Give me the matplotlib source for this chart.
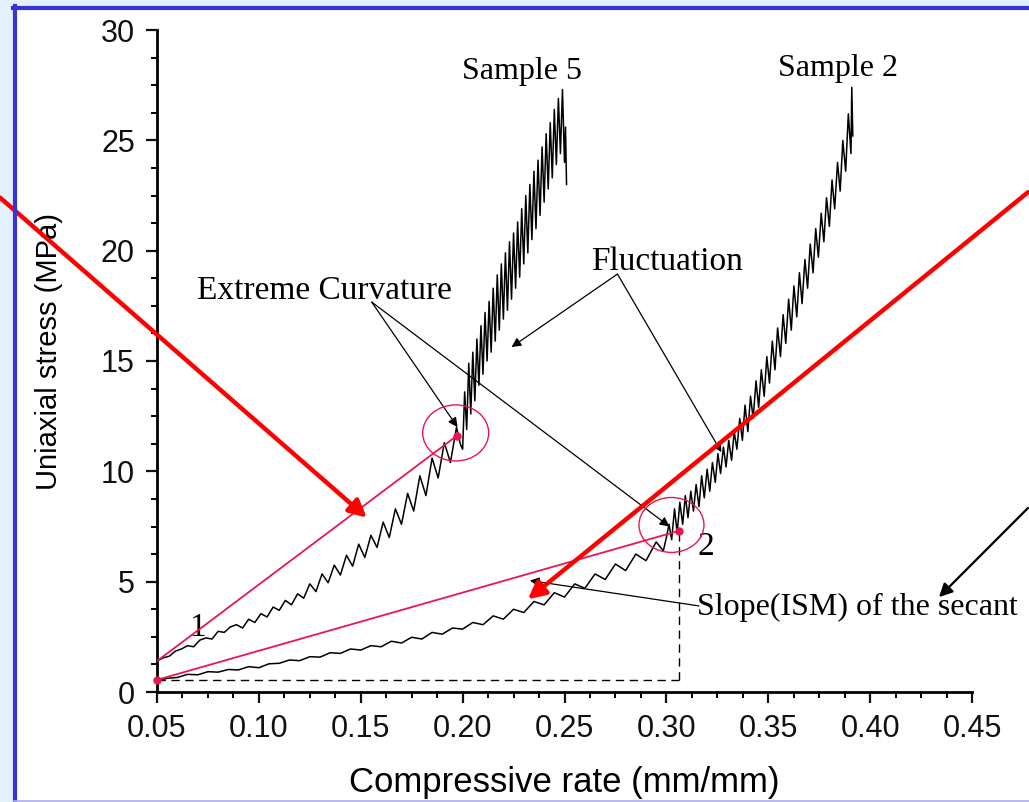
import matplotlib
matplotlib.use("Agg")
import matplotlib.pyplot as plt
from matplotlib.patches import Rectangle, Ellipse
from matplotlib.lines import Line2D
from matplotlib.ticker import MultipleLocator

# sample 5 curve (compressive rate, stress MPa)
s5_x = [0.050, 0.053, 0.056, 0.059, 0.062, 0.065, 0.068, 0.071, 0.074, 0.077,
        0.080, 0.083, 0.086, 0.089, 0.092, 0.095, 0.098, 0.101, 0.104, 0.107,
        0.110, 0.113, 0.116, 0.119, 0.122, 0.125, 0.128, 0.131, 0.134, 0.137,
        0.140, 0.143, 0.146, 0.149, 0.152, 0.155, 0.158, 0.161, 0.164, 0.167,
        0.170, 0.173, 0.176, 0.179, 0.182, 0.185, 0.188, 0.191, 0.194, 0.197,
        0.199,
        0.2000, 0.2010, 0.2020, 0.2030, 0.2040, 0.2050, 0.2060, 0.2070, 0.2080, 0.2090,
        0.2100, 0.2110, 0.2120, 0.2130, 0.2140, 0.2150, 0.2160, 0.2170, 0.2180, 0.2190,
        0.2200, 0.2210, 0.2220, 0.2230, 0.2240, 0.2250, 0.2260, 0.2270, 0.2280, 0.2290,
        0.2300, 0.2310, 0.2320, 0.2330, 0.2340, 0.2350, 0.2360, 0.2370, 0.2380, 0.2390,
        0.2400, 0.2410, 0.2420, 0.2430, 0.2440, 0.2450, 0.2460, 0.2470, 0.2480, 0.2490,
        0.2500, 0.2505, 0.2510]
s5_y = [1.40, 1.55, 1.62, 1.85, 1.95, 2.10, 2.05, 2.35, 2.45, 2.40,
        2.75, 2.70, 2.95, 3.05, 2.90, 3.30, 3.15, 3.55, 3.40, 3.85,
        3.70, 4.15, 3.95, 4.45, 4.25, 4.90, 4.55, 5.35, 4.95, 5.75,
        5.30, 6.20, 5.70, 6.70, 6.10, 7.10, 6.55, 7.70, 7.00, 8.30,
        7.60, 9.00, 8.20, 9.80, 8.90, 10.60, 9.70, 11.30, 10.40, 12.00,
        11.20,
        11.0, 13.6, 11.9, 14.9, 12.6, 15.4, 13.2, 16.0, 13.9, 16.6,
        14.4, 17.2, 15.0, 17.7, 15.4, 18.3, 15.9, 18.9, 16.4, 19.4,
        16.9, 19.9, 17.3, 20.4, 17.8, 20.8, 18.3, 21.3, 18.8, 21.9,
        19.4, 22.5, 19.9, 23.0, 20.5, 23.6, 21.0, 24.1, 21.6, 24.7,
        22.2, 25.3, 22.8, 25.8, 23.3, 26.4, 23.9, 26.9, 24.4, 27.3,
        24.0, 25.6, 23.0]

# sample 2 curve
s2_x = [0.050, 0.055, 0.060, 0.065, 0.070, 0.075, 0.080, 0.085, 0.090, 0.095,
        0.100, 0.105, 0.110, 0.115, 0.120, 0.125, 0.130, 0.135, 0.140, 0.145,
        0.150, 0.155, 0.160, 0.165, 0.170, 0.175, 0.180, 0.185, 0.190, 0.195,
        0.200, 0.205, 0.210, 0.215, 0.220, 0.225, 0.230, 0.235, 0.240, 0.245,
        0.250, 0.255, 0.260, 0.265, 0.270, 0.275, 0.280, 0.285, 0.290, 0.295,
        0.2985,
        0.3000, 0.3013, 0.3026, 0.3040, 0.3053, 0.3066, 0.3080, 0.3093, 0.3106, 0.3120,
        0.3133, 0.3146, 0.3160, 0.3173, 0.3186, 0.3200, 0.3213, 0.3226, 0.3240, 0.3253,
        0.3266, 0.3280, 0.3293, 0.3306, 0.3320, 0.3333, 0.3346, 0.3360, 0.3373, 0.3386,
        0.3400, 0.3413, 0.3426, 0.3440, 0.3453, 0.3466, 0.3480, 0.3493, 0.3506, 0.3520,
        0.3533, 0.3546, 0.3560, 0.3573, 0.3586, 0.3600, 0.3613, 0.3626, 0.3640, 0.3653,
        0.3666, 0.3680, 0.3693, 0.3706, 0.3720, 0.3733, 0.3746, 0.3760, 0.3773, 0.3786,
        0.3800, 0.3813, 0.3826, 0.3840, 0.3853, 0.3866, 0.3880, 0.3893, 0.3906, 0.3910,
        0.3915]
s2_y = [0.50, 0.62, 0.66, 0.80, 0.78, 0.92, 0.90, 1.02, 1.00, 1.15,
        1.10, 1.28, 1.30, 1.45, 1.42, 1.60, 1.58, 1.78, 1.75, 1.95,
        1.90, 2.10, 2.05, 2.30, 2.22, 2.48, 2.40, 2.70, 2.62, 2.90,
        2.85, 3.15, 3.05, 3.45, 3.30, 3.75, 3.60, 4.10, 3.95, 4.50,
        4.30, 4.90, 4.70, 5.35, 5.10, 5.80, 5.50, 6.25, 5.95, 6.80,
        6.40,
        7.0, 7.6, 6.9, 8.3, 7.2, 8.6, 7.6, 8.9, 7.9, 9.1,
        8.2, 9.4, 8.4, 9.8, 8.8, 10.1, 9.1, 10.4, 9.5, 10.8,
        9.9, 11.1, 10.2, 11.4, 10.5, 11.8, 11.0, 12.4, 11.4, 13.0,
        11.8, 13.4, 12.4, 14.1, 12.9, 14.6, 13.4, 15.2, 14.0, 15.9,
        14.6, 16.5, 15.2, 17.1, 15.8, 17.8, 16.4, 18.4, 17.0, 19.0,
        17.6, 19.6, 18.3, 20.3, 19.0, 21.0, 19.7, 21.7, 20.4, 22.4,
        21.1, 23.2, 21.9, 24.0, 22.7, 25.0, 23.6, 26.2, 24.4, 27.4,
        25.2]

# secant lines (start, extreme curvature point)
sec5_x = [0.05, 0.197]
sec5_y = [1.4, 11.6]
sec2_x = [0.05, 0.306]
sec2_y = [0.55, 7.3]

xticks = [0.05, 0.10, 0.15, 0.20, 0.25, 0.30, 0.35, 0.40, 0.45]
xtick_labels = ["0.05", "0.10", "0.15", "0.20", "0.25", "0.30", "0.35", "0.40", "0.45"]
yticks = [0, 5, 10, 15, 20, 25, 30]
ytick_labels = ["0", "5", "10", "15", "20", "25", "30"]

W, H = 1029, 802
fig = plt.figure(figsize=(W / 100, H / 100), dpi=100, facecolor="#e2f1fb")

# slide frame
fig.patches.append(Rectangle((14 / W, 2 / H), 1 - 14 / W, 1 - 10 / H, transform=fig.transFigure,
                             facecolor="white", edgecolor="none", zorder=-5))
fig.lines.append(Line2D([14.5 / W, 14.5 / W], [0, 1 - 6 / H], transform=fig.transFigure,
                        color="#3a32d4", lw=3))
fig.lines.append(Line2D([13 / W, 1], [1 - 7.5 / H, 1 - 7.5 / H], transform=fig.transFigure,
                        color="#3a32d4", lw=3))
fig.lines.append(Line2D([14 / W, 1], [1.5 / H, 1.5 / H], transform=fig.transFigure,
                        color="#b4aef0", lw=1.2))

ax = fig.add_axes([157 / W, 110 / H, 815 / W, 662 / H])
ax.set_facecolor("none")
ax.set_xlim(0.05, 0.45)
ax.set_ylim(0, 30)

ax.spines["top"].set_visible(False)
ax.spines["right"].set_visible(False)
for s in ["left", "bottom"]:
    ax.spines[s].set_linewidth(2)
ax.set_xticks(xticks)
ax.set_xticklabels(xtick_labels)
ax.set_yticks(yticks)
ax.set_yticklabels(ytick_labels)
ax.xaxis.set_minor_locator(MultipleLocator(0.0125))
ax.yaxis.set_minor_locator(MultipleLocator(1.25))
ax.tick_params(which="major", length=8, width=1.6, labelsize=22, pad=8, colors="#111111")
ax.tick_params(which="minor", length=4.5, width=1.4)
for lab in ax.get_xticklabels() + ax.get_yticklabels():
    lab.set_family("Liberation Sans")

ax.set_xlabel("Compressive rate (mm/mm)", family="Liberation Sans", fontsize=25, va="center")
ax.xaxis.set_label_coords(0.5, -0.136)
ax.set_ylabel("Uniaxial stress (MPa)", family="Liberation Sans", fontsize=21, va="center")
ax.yaxis.set_label_coords(-0.133, 0.515)

# curves
ax.plot(s5_x, s5_y, color="black", lw=1.1)
ax.plot(s2_x, s2_y, color="black", lw=1.1)

# secants and markers
pink = "#e8174f"
ax.plot(sec5_x, sec5_y, color=pink, lw=1.3, zorder=4)
ax.plot(sec2_x, sec2_y, color=pink, lw=1.3, zorder=4)
ax.plot([sec5_x[1], sec2_x[1], sec2_x[0]], [sec5_y[1], sec2_y[1], sec2_y[0]],
        "o", color=pink, ms=5, zorder=5, clip_on=False)
ax.add_patch(Ellipse((0.1966, 11.74), 0.0324, 2.54, fill=False, edgecolor=pink, lw=1.0, zorder=4))
ax.add_patch(Ellipse((0.3025, 7.57), 0.0319, 2.49, fill=False, edgecolor=pink, lw=1.0, zorder=4))

# dashed guides
ax.plot([0.05, 0.306], [0.55, 0.55], color="black", lw=1.0, ls=(0, (6, 4)))
ax.plot([0.306, 0.306], [0.55, 7.3], color="black", lw=1.0, ls=(0, (6, 4)))

serif = "Liberation Serif"
ax.text(0.229, 28.1, "Sample 5", family=serif, fontsize=23, ha="center", va="center")
ax.text(0.3843, 28.27, "Sample 2", family=serif, fontsize=23, ha="center", va="center")
ax.text(0.0696, 18.2, "Extreme Curvature", family=serif, fontsize=24, ha="left", va="center")
ax.text(0.2632, 19.5, "Fluctuation", family=serif, fontsize=24, ha="left", va="center")
ax.text(0.3152, 3.85, "Slope(ISM) of the secant", family=serif, fontsize=23, ha="left",
        va="center", clip_on=False)
ax.text(0.070, 2.9, "1", family=serif, fontsize=24, ha="center", va="center")
ax.text(0.3196, 6.57, "2", family=serif, fontsize=24, ha="center", va="center")

# thin black pointers
thin = dict(arrowstyle="-|>", color="black", lw=0.9, mutation_scale=14, shrinkA=0, shrinkB=0)
for tgt in [(0.1975, 12.0), (0.3015, 7.5)]:
    ax.annotate("", xy=tgt, xytext=(0.1554, 17.67), arrowprops=thin)
for tgt in [(0.224, 15.63), (0.327, 10.87)]:
    ax.annotate("", xy=tgt, xytext=(0.276, 18.94), arrowprops=thin)
ax.annotate("", xy=(0.233, 5.05), xytext=(0.316, 3.9), arrowprops=thin)
ax.annotate("", xy=(0.4338, 4.3), xytext=(0.4775, 8.34), annotation_clip=False,
            arrowprops=dict(arrowstyle="-|>", color="black", lw=1.6, mutation_scale=20,
                            shrinkA=0, shrinkB=0))

# big red arrows
red = dict(arrowstyle="-|>", color="#ff0000", lw=3.2, mutation_scale=26, shrinkA=0, shrinkB=0)
ax.annotate("", xy=(0.153, 7.9), xytext=(-0.027, 22.4), annotation_clip=False,
            arrowprops=red, zorder=6)
ax.annotate("", xy=(0.232, 4.2), xytext=(0.4775, 22.65), annotation_clip=False,
            arrowprops=red, zorder=6)

fig.savefig("out.png", dpi=100, facecolor=fig.get_facecolor())
